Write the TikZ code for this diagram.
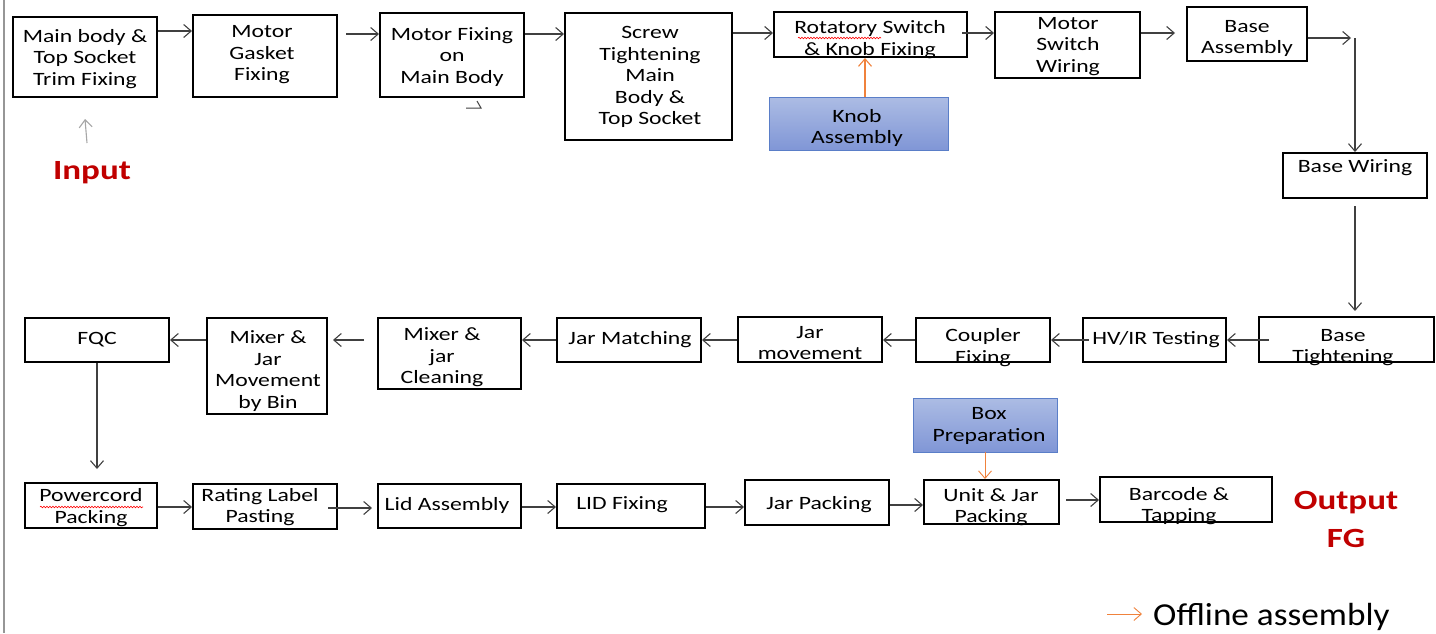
\documentclass[tikz,border=0pt]{standalone}
\usepackage{fontspec}
\setmainfont{Carlito}
\newfontfamily\boxfont{Carlito}[FakeStretch=1.26]
\newfontfamily\legfont{Carlito}[FakeStretch=1.1]
\usetikzlibrary{arrows.meta,fit,decorations.pathmorphing}
\definecolor{arrgray}{RGB}{64,64,64}
\definecolor{lightgray}{RGB}{166,166,166}
\definecolor{borderc}{RGB}{150,150,150}
\definecolor{offorange}{RGB}{240,130,60}
\definecolor{redtxt}{RGB}{192,0,0}
\definecolor{bluetop}{RGB}{172,188,228}
\definecolor{bluebot}{RGB}{128,150,214}
\definecolor{blueedge}{RGB}{90,126,200}
\begin{document}
\begin{tikzpicture}[x=1pt,y=-1pt,
  box/.style={draw=black,line width=2pt,inner sep=0pt},
  bluebox/.style={draw=blueedge,line width=0.8pt,top color=bluetop,bottom color=bluebot,inner sep=0pt},
  txt/.style={align=center,inner sep=0pt,yshift=-2pt,font=\boxfont\fontsize{18.8}{21.5}\selectfont},
  redlbl/.style={inner sep=0pt,yshift=-3pt,text=redtxt,font=\boxfont\bfseries\fontsize{27.8}{34}\selectfont},
  arr/.style={draw=arrgray,line width=1.1pt,-{Straight Barb[length=7.5pt,width=13pt]}},
  oarr/.style={arr,draw=offorange},
  garr/.style={arr,draw=lightgray},
  squig/.style={draw=red,line width=0.6pt,decorate,decoration={snake,amplitude=0.8pt,segment length=3pt}}]
\useasboundingbox (0,0) rectangle (1436,633);
\fill[white] (0,0) rectangle (1436,633);
\draw[borderc,line width=1.6pt] (4,0) -- (4,633);

% ---- top row
\node[box,fit={(13,17) (157,97)}] (n1) {};
\node[txt] at (85,57) {Main body \&\\Top Socket\\Trim Fixing};
\node[box,fit={(193,15) (337,97)}] (n2) {};
\node[txt] at (262,53) {Motor\\Gasket\\Fixing};
\node[box,fit={(380,13) (524,97)}] (n3) {};
\node[txt] at (452,55) {Motor Fixing\\on\\Main Body};
\node[box,fit={(565,13) (732,140)}] (n4) {};
\node[txt] at (650,75) {Screw\\Tightening\\Main\\Body \&\\Top Socket};
\node[box,fit={(774,12) (967,57)}] (n5) {};
\node[txt] at (870,37.5) {Rotatory Switch\\\& Knob Fixing};
\node[box,fit={(995,12) (1140,78)}] (n6) {};
\node[txt] at (1068,44.5) {Motor\\Switch\\Wiring};
\node[box,fit={(1187,7) (1307,61)}] (n7) {};
\node[txt] at (1247,36.5) {Base\\Assembly};
\node[bluebox,fit={(769,97) (948,150)}] (knob) {};
\node[txt] at (857,126) {Knob\\Assembly};
\node[box,fit={(1283,153) (1427,198)}] (bw) {};
\node[txt] at (1355,166) {Base Wiring};

% ---- middle row
\node[box,fit={(1259,317) (1434,362)}] (bt) {};
\node[txt] at (1343,345.5) {Base\\Tightening};
\node[box,fit={(1083,318) (1226,362)}] (hv) {};
\node[txt] at (1156,338) {HV/IR Testing};
\node[box,fit={(916,318) (1050,362)}] (cf) {};
\node[txt] at (983,345.5) {Coupler\\Fixing};
\node[box,fit={(738,317) (882,362)}] (jm) {};
\node[txt] at (810,341) {Jar\\movement};
\node[box,fit={(557,318) (701,362)}] (jmat) {};
\node[txt] at (630,338) {Jar Matching};
\node[box,fit={(378,318) (521,389)}] (mjc) {};
\node[txt] at (442,355.5) {Mixer \&\\jar\\Cleaning};
\node[box,fit={(207,318) (327,414)}] (mjm) {};
\node[txt] at (268,369) {Mixer \&\\Jar\\Movement\\by Bin};
\node[box,fit={(25,318) (169,362)}] (fqc) {};
\node[txt] at (97,338) {FQC};

% ---- bottom row
\node[box,fit={(25,483) (157,528)}] (pc) {};
\node[txt] at (91,505.5) {Powercord\\Packing};
\node[box,fit={(193,484) (337,529)}] (rl) {};
\node[txt] at (260,505) {Rating Label\\Pasting};
\node[box,fit={(378,484) (521,528)}] (lid) {};
\node[txt] at (447,503) {Lid Assembly};
\node[box,fit={(557,484) (705,528)}] (lf) {};
\node[txt] at (622,503) {LID Fixing};
\node[box,fit={(745,480) (889,525)}] (jp) {};
\node[txt] at (819,503) {Jar Packing};
\node[box,fit={(924,480) (1059,524)}] (uj) {};
\node[txt] at (991,505) {Unit \& Jar\\Packing};
\node[bluebox,fit={(913,398) (1057,452)}] (bp) {};
\node[txt] at (989,424) {Box\\Preparation};
\node[box,fit={(1100,477) (1272,522)}] (bc) {};
\node[txt] at (1179,504) {Barcode \&\\Tapping};

% ---- spell-check squiggles
\draw[squig] (798,38) -- (881,38);
\draw[squig] (40,507) -- (143,507);

% ---- labels
\node[redlbl] (inp) at (92,170) {Input};
\node[redlbl] (out1) at (1346,500) {Output};
\node[redlbl] (out2) at (1346,535) {FG};
\coordinate (inarrA) at (87,143);
\draw[garr] (inarrA) -- (n1.south |- 0,119);

% ---- connectors, top row
\draw[arr] (n1.east |- 0,31) -- (n2.west |- 0,31);
\draw[arr,shorten <=8pt] (n2.east |- 0,34) -- (n3.west |- 0,34);
\draw[arr] (n3.east |- 0,34) -- (n4.west |- 0,34);
\draw[arr] (n4.east |- 0,33) -- (n5.west |- 0,33);
\draw[arr,shorten <=-6pt] (n5.east |- 0,33) -- (n6.west |- 0,33);
\draw[arr,shorten >=11pt] (n6.east |- 0,33) -- (n7.west |- 0,33);
\coordinate (corner) at (1355,38);
\draw[arr,shorten >=4pt] (n7.east |- 0,38) -- (corner);
\draw[arr] (corner) -- (bw.north);
\draw[oarr] (knob.north -| 865,0) -- (n5.south -| 865,0);
% stray mark under Motor Fixing box
\coordinate (st1) at (466,108);
\coordinate (st2) at (481,108);
\coordinate (st3) at (477,101);
\draw[arrgray,line width=1pt] (st1) -- (st2) -- (st3);

% ---- right side down
\draw[arr,shorten <=7pt,shorten >=5pt] (bw.south) -- (bw.south |- bt.north);

% ---- middle row (right to left)
\draw[arr,shorten <=-11pt] (bt.west |- 0,340) -- (hv.east |- 0,340);
\draw[arr,shorten <=-7pt] (hv.west |- 0,340) -- (cf.east |- 0,340);
\draw[arr] (cf.west |- 0,340) -- (jm.east |- 0,340);
\draw[arr] (jm.west |- 0,340) -- (jmat.east |- 0,340);
\draw[arr] (jmat.west |- 0,340) -- (mjc.east |- 0,340);
\draw[arr,shorten <=13pt,shorten >=5pt] (mjc.west |- 0,340) -- (mjm.east |- 0,340);
\draw[arr] (mjm.west |- 0,340) -- (fqc.east |- 0,340);

% ---- FQC down
\draw[arr,shorten >=13pt] (fqc.south) -- (fqc.south |- pc.north);

% ---- bottom row
\draw[arr] (pc.east |- 0,507) -- (rl.west |- 0,507);
\draw[arr,shorten <=-10pt,shorten >=5pt] (rl.east |- 0,508) -- (lid.west |- 0,508);
\draw[arr] (lid.east |- 0,507) -- (lf.west |- 0,507);
\draw[arr] (lf.east |- 0,507) -- (jp.west |- 0,507);
\draw[arr] (jp.east |- 0,505) -- (uj.west |- 0,505);
\draw[arr,shorten <=6pt] (uj.east |- 0,500) -- (bc.west |- 0,500);
\draw[oarr,line width=0.9pt] (bp.south -| 985,0) -- (uj.north -| 985,0);

% ---- legend
\coordinate (lgA) at (1107,614);
\coordinate (lgB) at (1142,614);
\draw[oarr,line width=0.9pt] (lgA) -- (lgB);
\node[anchor=west,inner sep=0pt,yshift=-3pt,font=\legfont\fontsize{32}{36}\selectfont] (leg) at (1153,614) {Offline assembly};
\end{tikzpicture}
\end{document}
